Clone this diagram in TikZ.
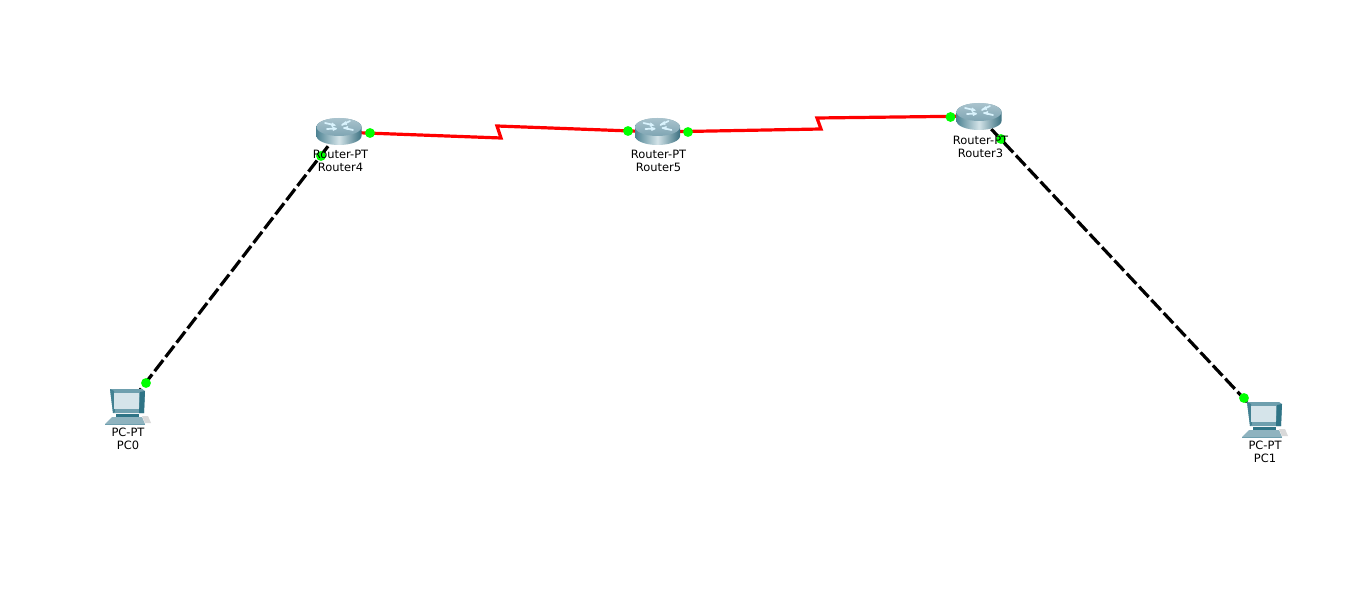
\documentclass[tikz,border=0pt]{standalone}
\usepackage{fontspec}
\setmainfont{DejaVu Sans}
\definecolor{rdark}{HTML}{4F8494}
\definecolor{rmid}{HTML}{D3E3E8}
\definecolor{rdeep}{HTML}{3C7181}
\definecolor{rtop}{HTML}{A9C3CD}
\definecolor{rtopb}{HTML}{7FA5B3}
\definecolor{pcframe}{HTML}{6E9FAE}
\definecolor{pcdark}{HTML}{2F7486}
\definecolor{pcscreen}{HTML}{D5E4EA}
\definecolor{pcbase}{HTML}{8FB3BF}
\tikzset{
  x=0.75pt,y=-0.75pt,
  anchorbox/.style={inner sep=0pt,minimum size=1pt},
  serial/.style={draw=red,line width=2.4pt,line join=miter},
  copper/.style={draw=black,line width=2.4pt,dash pattern=on 10.5pt off 3pt},
  portdot/.style={circle,fill=green,draw=none,inner sep=0pt,minimum size=7.4pt},
  devlabel/.style={font=\fontsize{8.6pt}{9.75pt}\selectfont,text=black,align=center,inner sep=0pt},
  pics/routericon/.style={code={
    \path[left color=rdark,right color=rdeep,middle color=rmid]
      (-22.5,-5) -- (-22.5,4) arc[start angle=180,end angle=0,x radius=22.5,y radius=9]
      -- (22.5,-5) arc[start angle=0,end angle=-180,x radius=22.5,y radius=9] -- cycle;
    \path[top color=rtop,bottom color=rtopb]
      (0,-5) ellipse[x radius=22.5,y radius=9];
    \draw[white!85!cyan,line width=1.3pt,line cap=round]
      (-14,-9) -- (-5,-7) (-12,-3) -- (-3,-3.5) (3,-7) -- (11,-11) (5,-4) -- (14,-2);
    \fill[white!85!cyan] (-3,-6.5) -- (-7,-9.5) -- (-8,-5.5) -- cycle
      (-2,-3) -- (-7,-6) -- (-6,-1) -- cycle
      (3,-8) -- (8,-7) -- (7,-11) -- cycle
      (4,-4) -- (9,-6) -- (9,-2) -- cycle;
  }},
  pics/pcicon/.style={code={
    \fill[pcframe] (-17,-18) -- (15,-18) -- (18,-16) -- (17,6) -- (-14,6) -- cycle;
    \fill[pcdark] (13,-15) -- (18,-16) -- (17,6) -- (12,6) -- cycle;
    \fill[pcdark!70!pcframe] (-17,-18) -- (-13,-16) -- (-12,5) -- (-14,6) -- cycle;
    \fill[pcscreen] (-13,-14) -- (12,-14) -- (12,2) -- (-13,2) -- cycle;
    \fill[pcdark] (-11,7) -- (12,7) -- (12,10) -- (-11,10) -- cycle;
    \fill[pcbase] (-15,10) -- (15,10) -- (18,17) -- (-22,17) -- cycle;
    \fill[gray!30] (15,9) -- (21,9) -- (24,16) -- (18,16) -- cycle;
    \draw[pcframe,line width=0.7pt] (-22,17.5) -- (18,17.5);
  }}
}
\begin{document}
\begin{tikzpicture}
\useasboundingbox (0,0) rectangle (1366,591);
\fill[white] (0,0) rectangle (1366,591);
% device anchors
\node[anchorbox] (r4) at (339,132) {};
\node[anchorbox] (r5) at (657.5,132) {};
\node[anchorbox] (r3) at (979,116) {};
\node[anchorbox] (pc0) at (127,407) {};
\node[anchorbox] (pc1) at (1264,420) {};
\coordinate (za1) at (501,138);
\coordinate (za2) at (497,126);
\coordinate (zb1) at (821,129);
\coordinate (zb2) at (817,118);
% links
\draw[serial] (r4.center) -- (za1) -- (za2) -- (r5.center);
\draw[serial] (r5.center) -- (zb1) -- (zb2) -- (r3.center);
\draw[copper] (r4.center) -- (pc0.center);
\draw[copper] (r3.center) -- (pc1.center);
% icons
\pic at (339,132) {routericon};
\pic at (657.5,132) {routericon};
\pic at (979,117) {routericon};
\pic at (127,407) {pcicon};
\pic at (1264,420) {pcicon};
% port lights
\node[portdot] (d1) at (370,133) {};
\node[portdot] (d2) at (321,156) {};
\node[portdot] (d3) at (628,131) {};
\node[portdot] (d4) at (688,132) {};
\node[portdot] (d5) at (950.5,117) {};
\node[portdot] (d6) at (1001,139) {};
\node[portdot] (d7) at (146,383) {};
\node[portdot] (d8) at (1244,398) {};
% labels
\node[devlabel] (l4) at (340.5,161) {Router-PT\\Router4};
\node[devlabel] (l5) at (658.5,161) {Router-PT\\Router5};
\node[devlabel] (l3) at (980.5,146.5) {Router-PT\\Router3};
\node[devlabel] (l0) at (128,438.5) {PC-PT\\PC0};
\node[devlabel] (l1) at (1265,451.5) {PC-PT\\PC1};
\end{tikzpicture}
\end{document}
